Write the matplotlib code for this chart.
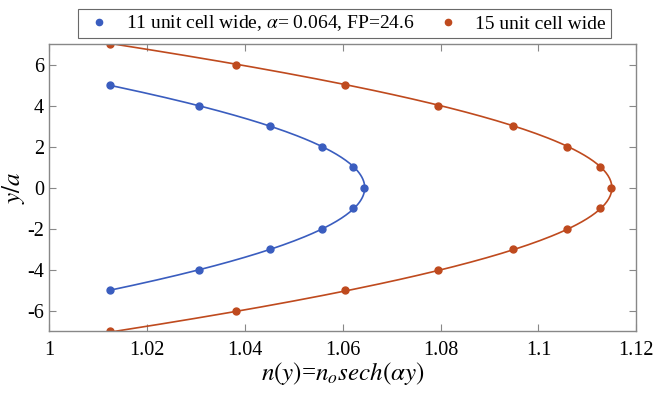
import numpy as np
import matplotlib.pyplot as plt

plt.rcParams['font.family'] = ['Liberation Serif', 'DejaVu Serif']
plt.rcParams['mathtext.fontset'] = 'stix'
plt.rcParams['axes.unicode_minus'] = False

# positions across the guide (unit cells)
y_11 = [-5, -4, -3, -2, -1, 0, 1, 2, 3, 4, 5]
n_11 = [1.0125, 1.0307, 1.0451, 1.0558, 1.0621, 1.0643, 1.0621, 1.0558, 1.0451, 1.0307, 1.0125]

y_15 = [-7, -6, -5, -4, -3, -2, -1, 0, 1, 2, 3, 4, 5, 6, 7]
n_15 = [1.0125, 1.0381, 1.0605, 1.0795, 1.0948, 1.1059, 1.1125, 1.1149,
        1.1125, 1.1059, 1.0948, 1.0795, 1.0605, 1.0381, 1.0125]

# fitted profile n(y) = n0 sech(alpha y)
alpha_11, n0_11 = 0.064, 1.0645
alpha_15, n0_15 = 0.0635, 1.115

blue = '#3a5dbf'
red = '#bf4a1e'

fig, ax = plt.subplots(figsize=(6.54, 3.97), dpi=100)
fig.subplots_adjust(left=0.075, right=0.973, top=0.889, bottom=0.165)

yy = np.linspace(-5, 5, 200)
ax.plot(n0_11 / np.cosh(alpha_11 * yy), yy, color=blue, lw=1.2)
yy = np.linspace(-7, 7, 200)
ax.plot(n0_15 / np.cosh(alpha_15 * yy), yy, color=red, lw=1.2)

ax.plot(n_11, y_11, 'o', color=blue, ms=5, label=r'11 unit cell wide, $\alpha$= 0.064, FP=24.6')
ax.plot(n_15, y_15, 'o', color=red, ms=5, label='15 unit cell wide')

ax.set_xlim(1, 1.12)
ax.set_ylim(-7, 7)
ax.set_xticks([1, 1.02, 1.04, 1.06, 1.08, 1.1, 1.12])
ax.set_xticklabels(['1', '1.02', '1.04', '1.06', '1.08', '1.1', '1.12'])
ax.set_yticks([-6, -4, -2, 0, 2, 4, 6])
ax.tick_params(direction='in', top=True, right=True, labelsize=14.5, length=5, color='#888888')
ax.tick_params(axis='x', pad=7)
for s in ax.spines.values():
    s.set_color('#888888')
    s.set_linewidth(1)

ax.set_xlabel(r'$n(y)$=$n_o sech(\alpha y)$', fontsize=18, labelpad=0)
ax.set_ylabel(r'$y/a$', fontsize=18)
ax.yaxis.set_label_coords(-0.038, 0.5)

leg = ax.legend(loc='lower center', bbox_to_anchor=(0.503, 1.02), ncol=2, fontsize=14,
                frameon=True, fancybox=False, edgecolor='#444444', handletextpad=0.6,
                columnspacing=0.9, borderpad=0.25, handlelength=1.6, markerscale=0.9,
                borderaxespad=0)
leg.get_frame().set_linewidth(0.8)

fig.savefig('out.png')
